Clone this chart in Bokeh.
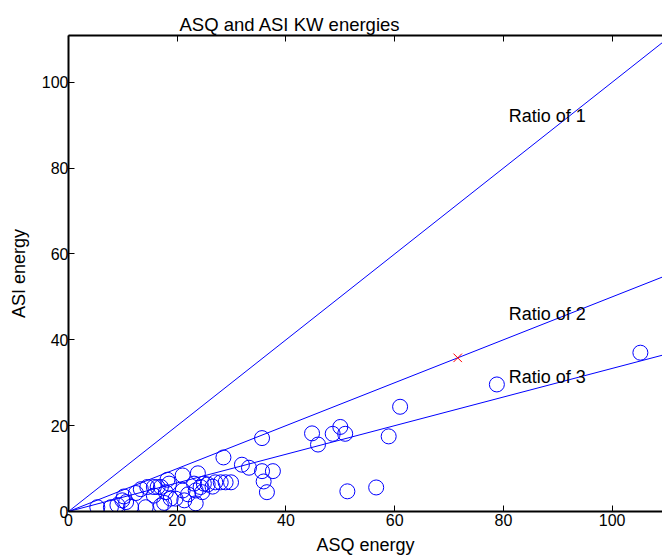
from bokeh.plotting import figure
from bokeh.models import Range1d, LinearAxis, FixedTicker
from bokeh.embed import file_html
from bokeh.resources import INLINE
from bokeh.core.properties import value

# ---- data ----
asq = [5.3, 7.8, 9.9, 10.2, 11.5, 12.4, 13.3, 14.5, 14.2, 15.7, 16.4, 17.0,
       18.2, 18.5, 17.9, 17.6, 18.8, 15.7, 17.0, 19.7, 21.0, 21.0, 21.3, 23.1,
       23.4, 23.4, 23.8, 24.3, 24.9, 24.6, 25.6, 27.0, 28.0, 28.9, 29.9, 28.5,
       31.9, 33.2, 35.6, 37.6, 35.9, 36.5, 35.6, 44.8, 45.9, 48.6, 50.0, 50.9,
       51.3, 56.6, 58.9, 61.0, 78.8, 105.2, 9.0, 26.5, 22.0, 10.6]
asi = [1.0, 1.0, 2.6, 3.5, 1.1, 4.3, 5.2, 5.7, 1.0, 5.7, 5.7, 5.7,
       7.4, 6.5, 4.5, 2.0, 3.0, 3.7, 1.4, 3.0, 8.4, 4.9, 2.6, 6.5,
       4.9, 1.9, 8.9, 5.7, 6.5, 4.5, 6.3, 6.8, 6.8, 6.8, 6.8, 12.6,
       10.9, 10.2, 9.4, 9.4, 7.0, 4.5, 17.1, 18.2, 15.6, 18.1, 19.7, 18.1,
       4.7, 5.6, 17.5, 24.4, 29.6, 37.0, 1.5, 5.8, 4.0, 2.2]
marked_asq = [71.6]
marked_asi = [35.8]
ratios = [1, 2, 3]
ratio_x = [0, 110]
label_text = ["Ratio of 1", "Ratio of 2", "Ratio of 3"]
label_x = [81, 81, 81]
label_y = [92.2, 46.1, 31.4]
ticks = [0, 20, 40, 60, 80, 100]

FONT = "Liberation Sans"
BLUE = "#0000ff"

p = figure(frame_width=594, frame_height=476, output_backend="svg",
           toolbar_location=None, x_range=Range1d(0, 109.27),
           y_range=Range1d(0, 110.9), min_border_left=68, min_border_top=35,
           min_border_bottom=45, min_border_right=0,
           title="ASQ and ASI KW energies")
p.outline_line_color = None
p.xgrid.visible = False
p.ygrid.visible = False
p.background_fill_color = "white"
p.border_fill_color = "white"

p.title.align = "left"
p.title.vertical_align = "middle"
p.title.offset = 111
p.title.standoff = 0
p.title.text_font = FONT
p.title.text_font_size = "18.5px"
p.title.text_font_style = "normal"
p.title.text_color = "black"

def style_axis(ax):
    ax.ticker = FixedTicker(ticks=ticks)
    ax.major_tick_in = 6
    ax.major_tick_out = 0
    ax.minor_tick_line_color = None
    ax.axis_line_width = 2
    ax.axis_line_color = "black"
    ax.major_tick_line_color = "black"
    ax.major_label_text_font = FONT
    ax.major_label_text_font_size = "16px"
    ax.major_label_text_color = "black"
    ax.axis_label_text_font = FONT
    ax.axis_label_text_font_size = "18px"
    ax.axis_label_text_font_style = "normal"
    ax.axis_label_text_color = "black"

style_axis(p.xaxis[0])
style_axis(p.yaxis[0])
p.xaxis.axis_label = "ASQ energy"
p.yaxis.axis_label = "ASI energy"
p.xaxis.major_label_standoff = 2
p.xaxis.axis_label_standoff = 6
p.yaxis.major_label_standoff = 0
p.yaxis.axis_label_standoff = 10

top = LinearAxis()
style_axis(top)
top.major_label_overrides = {t: "" for t in ticks}
top.major_label_text_font_size = "1px"
top.major_label_standoff = 0
p.add_layout(top, "above")

for r in ratios:
    p.line(ratio_x, [x / r for x in ratio_x], line_color=BLUE, line_width=1)

p.scatter(asq, asi, marker="circle", size=15, fill_color=None,
          line_color=BLUE, line_width=1)
p.scatter(marked_asq, marked_asi, marker="x", size=12, line_color="red",
          line_width=1)

p.text(label_x, label_y, text=label_text, text_font=value(FONT),
       text_font_size="18px", text_baseline="middle", text_align="left",
       text_color="black")

open("out.html", "w").write(file_html(p, INLINE))
